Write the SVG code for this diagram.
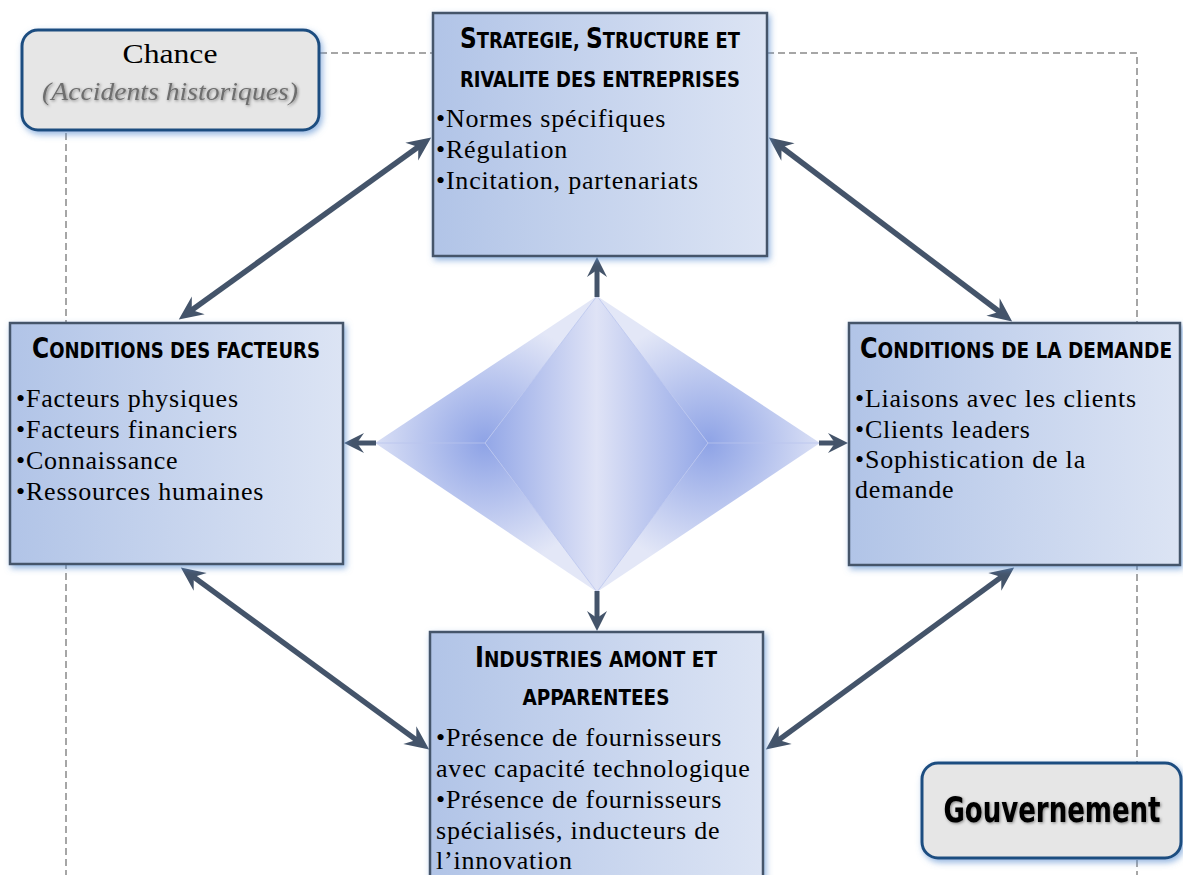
<svg xmlns="http://www.w3.org/2000/svg" width="1183" height="875" viewBox="0 0 1183 875">
<style>
.dash{fill:none;stroke:#a6a6a6;stroke-width:2;stroke-dasharray:7 4}
.box{stroke:#44546a;stroke-width:2.5;fill:url(#boxg)}
.rbox{fill:#e6e6e6;stroke:#1f4e80;stroke-width:3}
.ttl{font-family:"DejaVu Sans Condensed","Liberation Sans Narrow","DejaVu Sans",sans-serif;font-stretch:condensed;font-weight:bold;font-size:22px;fill:#000;text-anchor:middle}
.cap{font-size:28.5px}
.b{font-family:"Liberation Serif","Times New Roman",serif;font-size:26px;letter-spacing:0.8px;fill:#000}
.con{fill:none;stroke:#44546a;stroke-width:5.5}
.con2{fill:none;stroke:#44546a;stroke-width:5}
</style>
<defs>
<linearGradient id="boxg" x1="0" y1="0" x2="1" y2="0">
<stop offset="0" stop-color="#b1c4e7"/>
<stop offset="1" stop-color="#dce4f4"/>
</linearGradient>
<linearGradient id="mid" gradientUnits="userSpaceOnUse" x1="485" y1="0" x2="708" y2="0">
<stop offset="0" stop-color="#93a7e7"/>
<stop offset="0.5" stop-color="#dfe3f6"/>
<stop offset="1" stop-color="#93a7e7"/>
</linearGradient>
<radialGradient id="lft" gradientUnits="userSpaceOnUse" cx="485" cy="443" r="125">
<stop offset="0" stop-color="#8ea3e6"/>
<stop offset="1" stop-color="#e3e7f7"/>
</radialGradient>
<radialGradient id="rgt" gradientUnits="userSpaceOnUse" cx="708" cy="443" r="125">
<stop offset="0" stop-color="#8ea3e6"/>
<stop offset="1" stop-color="#e3e7f7"/>
</radialGradient>
<filter id="glow" x="-10%" y="-10%" width="125%" height="125%">
<feGaussianBlur in="SourceAlpha" stdDeviation="3" result="bl"/>
<feOffset in="bl" dx="2" dy="3" result="of"/>
<feFlood flood-color="#5b8fd0" flood-opacity="0.65"/>
<feComposite in2="of" operator="in" result="sh"/>
<feMerge><feMergeNode in="sh"/><feMergeNode in="SourceGraphic"/></feMerge>
</filter>
<filter id="tsh" x="-10%" y="-30%" width="120%" height="160%">
<feGaussianBlur in="SourceAlpha" stdDeviation="1.5" result="bl"/>
<feOffset in="bl" dx="1" dy="1" result="of"/>
<feFlood flood-color="#000" flood-opacity="0.45"/>
<feComposite in2="of" operator="in" result="sh"/>
<feMerge><feMergeNode in="sh"/><feMergeNode in="SourceGraphic"/></feMerge>
</filter>
<marker id="ah" markerUnits="userSpaceOnUse" viewBox="-26 -13 28 26" refX="-11" refY="0" markerWidth="28" markerHeight="26" orient="auto-start-reverse" overflow="visible">
<path d="M0,0 L-24,-11 L-16,0 L-24,11 Z" fill="#44546a"/>
</marker>
<marker id="ah2" markerUnits="userSpaceOnUse" viewBox="-26 -13 28 26" refX="-10" refY="0" markerWidth="28" markerHeight="26" orient="auto" overflow="visible">
<path d="M0,0 L-20,-10 L-13,0 L-20,10 Z" fill="#44546a"/>
</marker>
</defs>
<rect width="1183" height="875" fill="#ffffff"/>

<g id="guides">
<path class="dash" d="M320,53 H433"/>
<path class="dash" d="M767,53 H1137 V875"/>
<path class="dash" d="M66,133 V875"/>
</g>

<g id="diamond">
<polygon points="375,443 597,296 485,443" fill="url(#lft)"/>
<polygon points="375,443 597,592 485,443" fill="url(#lft)"/>
<polygon points="820,443 597,296 708,443" fill="url(#rgt)"/>
<polygon points="820,443 597,592 708,443" fill="url(#rgt)"/>
<polygon points="597,296 708,443 597,592 485,443" fill="url(#mid)"/>
<path d="M597,296 L485,443 L597,592 M597,296 L708,443 L597,592 M375,443 H485 M708,443 H820" fill="none" stroke="#b9c4ee" stroke-width="0.8"/>
</g>

<g id="connectors">
<line class="con" x1="187.7" y1="313.0" x2="422.3" y2="144.0" marker-start="url(#ah)" marker-end="url(#ah)"/>
<line class="con" x1="777.6" y1="144.2" x2="1003.4" y2="314.8" marker-start="url(#ah)" marker-end="url(#ah)"/>
<line class="con" x1="189.7" y1="574.1" x2="420.3" y2="742.9" marker-start="url(#ah)" marker-end="url(#ah)"/>
<line class="con" x1="1005.3" y1="574.1" x2="774.7" y2="742.9" marker-start="url(#ah)" marker-end="url(#ah)"/>
<line class="con2" x1="597" y1="297" x2="597" y2="267" marker-end="url(#ah2)"/>
<line class="con2" x1="597" y1="591" x2="597" y2="621" marker-end="url(#ah2)"/>
<line class="con2" x1="376" y1="443" x2="354" y2="443" marker-end="url(#ah2)"/>
<line class="con2" x1="819" y1="443" x2="838" y2="443" marker-end="url(#ah2)"/>
</g>

<g id="chance" filter="url(#glow)">
<rect class="rbox" x="22" y="30" width="297" height="100" rx="16"/>
</g>
<g id="chance-text">
<text x="170" y="63" font-family="'Liberation Serif',serif" font-size="27" text-anchor="middle" textLength="95" lengthAdjust="spacingAndGlyphs">Chance</text>
<text x="170" y="100" font-family="'Liberation Serif',serif" font-size="26" font-style="italic" fill="#6e6e6e" text-anchor="middle" textLength="256" lengthAdjust="spacingAndGlyphs" filter="url(#tsh)">(Accidents historiques)</text>
</g>

<g id="strategie">
<rect class="box" x="433" y="13" width="334" height="243" filter="url(#glow)"/>
<text class="ttl" x="600" y="48" textLength="280" lengthAdjust="spacingAndGlyphs"><tspan class="cap">S</tspan>TRATEGIE, <tspan class="cap">S</tspan>TRUCTURE ET</text>
<text class="ttl" x="600" y="87" textLength="280" lengthAdjust="spacingAndGlyphs">RIVALITE DES ENTREPRISES</text>
<text class="b" x="436" y="127">•Normes spécifiques</text>
<text class="b" x="436" y="158">•Régulation</text>
<text class="b" x="436" y="189">•Incitation, partenariats</text>
</g>

<g id="facteurs">
<rect class="box" x="10" y="323" width="333" height="241" filter="url(#glow)"/>
<text class="ttl" x="176" y="358" textLength="288" lengthAdjust="spacingAndGlyphs"><tspan class="cap">C</tspan>ONDITIONS DES FACTEURS</text>
<text class="b" x="16" y="407">•Facteurs physiques</text>
<text class="b" x="16" y="438">•Facteurs financiers</text>
<text class="b" x="16" y="469">•Connaissance</text>
<text class="b" x="16" y="500">•Ressources humaines</text>
</g>

<g id="demande">
<rect class="box" x="849" y="323" width="331" height="242" filter="url(#glow)"/>
<text class="ttl" x="1016" y="358" textLength="312" lengthAdjust="spacingAndGlyphs"><tspan class="cap">C</tspan>ONDITIONS DE LA DEMANDE</text>
<text class="b" x="855" y="407">•Liaisons avec les clients</text>
<text class="b" x="855" y="438">•Clients leaders</text>
<text class="b" x="855" y="468">•Sophistication de la</text>
<text class="b" x="855" y="498">demande</text>
</g>

<g id="industries">
<rect class="box" x="430" y="632" width="333" height="255" filter="url(#glow)"/>
<text class="ttl" x="596" y="667" textLength="242" lengthAdjust="spacingAndGlyphs"><tspan class="cap">I</tspan>NDUSTRIES AMONT ET</text>
<text class="ttl" x="596" y="705" textLength="147" lengthAdjust="spacingAndGlyphs">APPARENTEES</text>
<text class="b" x="436" y="746">•Présence de fournisseurs</text>
<text class="b" x="436" y="777">avec capacité technologique</text>
<text class="b" x="436" y="808">•Présence de fournisseurs</text>
<text class="b" x="436" y="839">spécialisés, inducteurs de</text>
<text class="b" x="436" y="869">l’innovation</text>
</g>

<g id="gouvernement">
<rect class="rbox" x="922" y="763" width="259" height="95" rx="16" filter="url(#glow)"/>
<text x="1052" y="822" font-family="'DejaVu Sans Condensed','Liberation Sans Narrow','DejaVu Sans',sans-serif" font-stretch="condensed" font-weight="bold" font-size="35" text-anchor="middle" textLength="217" lengthAdjust="spacingAndGlyphs" filter="url(#tsh)">Gouvernement</text>
</g>
</svg>
